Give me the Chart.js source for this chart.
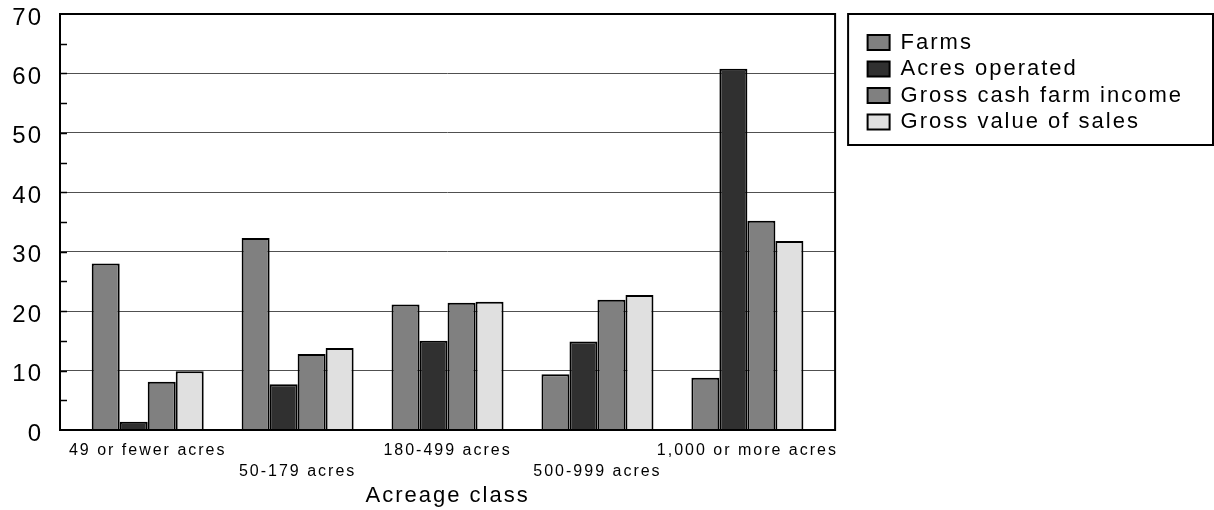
<!DOCTYPE html>
<html>
<head>
<meta charset="utf-8">
<script src="https://cdn.jsdelivr.net/npm/chart.js@4.4.1/dist/chart.umd.min.js"></script>
<style>
  html, body { margin: 0; padding: 0; background: #ffffff; }
  #wrap { width: 1214px; height: 510px; }
</style>
</head>
<body>
<div id="wrap"><canvas id="myChart"></canvas></div>
<script>
// values (percent)
const categories = ['49 or fewer acres', '50-179 acres', '180-499 acres', '500-999 acres', '1,000 or more acres'];
const farms = [28.0, 32.3, 21.1, 9.4, 8.8];
const acresOperated = [1.4, 7.7, 15.0, 14.9, 60.8];
const cashIncome = [8.1, 12.8, 21.4, 21.9, 35.2];
const valueOfSales = [9.9, 13.8, 21.6, 22.7, 31.8];
const seriesNames = ['Farms', 'Acres operated', 'Gross cash farm income', 'Gross value of sales'];
const yTicks = [0, 10, 20, 30, 40, 50, 60, 70];

const FONT = '"Liberation Sans", Arial, sans-serif';

function toPoints(values){
    return values.map((v, i) => ({x: i, y: v}));
}

// canvas letter spacing, the original text is spaced out
const spacing = {
    id: 'spacing',
    beforeUpdate(chart){ chart.ctx.letterSpacing = '2px'; },
    beforeDraw(chart){ chart.ctx.letterSpacing = '2px'; }
};

// frame round the plot, short ticks on the left and the legend box
const frame = {
    id: 'frame',
    beforeDatasetsDraw(chart){
        const {ctx, chartArea, scales} = chart;
        ctx.save();
        ctx.strokeStyle = '#000000';
        ctx.lineWidth = 1.5;
        for (let v = 5; v < 70; v += 5){
            const y = Math.round(scales.y.getPixelForValue(v)) + 0.5;
            ctx.beginPath();
            ctx.moveTo(chartArea.left, y);
            ctx.lineTo(chartArea.left + 7, y);
            ctx.stroke();
        }
        ctx.restore();
    },
    afterDatasetsDraw(chart){
        const {ctx, chartArea} = chart;
        ctx.save();
        ctx.strokeStyle = '#000000';
        ctx.lineWidth = 2;
        ctx.strokeRect(chartArea.left, chartArea.top, chartArea.right - chartArea.left, chartArea.bottom - chartArea.top);
        const legend = chart.legend;
        const boxes = legend.legendHitBoxes;
        const last = boxes[boxes.length - 1];
        const top = chartArea.top;
        const bottom = last.top + last.height + 12;
        ctx.strokeRect(legend.left - 15, top, chart.width - (legend.left - 15) - 1, bottom - top);
        ctx.restore();
    }
};

function mainEvent(){
    const chartTarget = document.querySelector('#myChart');
    const colors = ['#808080', '#303030', '#808080', '#e0e0e0'];
    const series = [farms, acresOperated, cashIncome, valueOfSales];

    const data = {
        datasets: series.map((values, i) => ({
            label: seriesNames[i],
            data: toPoints(values),
            backgroundColor: colors[i],
            borderColor: '#000000',
            borderWidth: 2,
            borderSkipped: 'start'
        }))
    };

    const config = {
        type: 'bar',
        data: data,
        options: {
            responsive: true,
            maintainAspectRatio: false,
            animation: false,
            barPercentage: 1,
            categoryPercentage: 0.747,
            layout: {padding: {top: 14, left: 0, right: 21, bottom: 0}},
            plugins: {
                tooltip: {enabled: false},
                legend: {
                    position: 'right',
                    align: 'start',
                    maxWidth: 420,
                    title: {display: true, text: '', padding: {top: 3, bottom: 0}, font: {size: 10, lineHeight: 1}},
                    labels: {
                        boxWidth: 22,
                        boxHeight: 15,
                        padding: 4.5,
                        color: '#000000',
                        font: {family: FONT, size: 22}
                    }
                }
            },
            scales: {
                x: {
                    type: 'linear',
                    offset: false,
                    min: -0.585,
                    max: 4.585,
                    grid: {display: false, drawTicks: false},
                    border: {display: false},
                    afterBuildTicks: (axis) => {
                        axis.ticks = categories.map((c, i) => ({value: i}));
                    },
                    afterFit: (axis) => {
                        axis.height = 80;
                        axis.paddingLeft = 0;
                        axis.paddingRight = 0;
                    },
                    ticks: {
                        autoSkip: false,
                        maxRotation: 0,
                        padding: 10,
                        color: '#000000',
                        font: {family: FONT, size: 16, lineHeight: 1.3},
                        callback: (value) => {
                            const name = categories[value];
                            return value % 2 === 1 ? ['', name] : name;
                        }
                    },
                    title: {
                        display: true,
                        text: 'Acreage class',
                        color: '#000000',
                        padding: {top: 0, bottom: 1},
                        font: {family: FONT, size: 22, lineHeight: 1.2}
                    }
                },
                y: {
                    min: 0,
                    max: 70,
                    afterBuildTicks: (axis) => {
                        axis.ticks = yTicks.map((v) => ({value: v}));
                    },
                    afterFit: (axis) => {
                        axis.width = 60;
                        axis.paddingTop = 0;
                        axis.paddingBottom = 0;
                    },
                    grid: {color: '#505050', lineWidth: 1, drawTicks: false},
                    border: {display: false},
                    ticks: {
                        padding: 17,
                        labelOffset: 4,
                        color: '#000000',
                        font: {family: FONT, size: 24}
                    }
                },
                gap: {
                    position: 'right',
                    grid: {display: false, drawTicks: false},
                    border: {display: false},
                    ticks: {display: false},
                    afterFit: (axis) => {
                        axis.width = 28;
                        axis.paddingTop = 0;
                        axis.paddingBottom = 0;
                    }
                }
            }
        },
        plugins: [spacing, frame]
    };

    return new Chart(chartTarget, config);
}

document.addEventListener('DOMContentLoaded', () => mainEvent());
</script>
</body>
</html>
